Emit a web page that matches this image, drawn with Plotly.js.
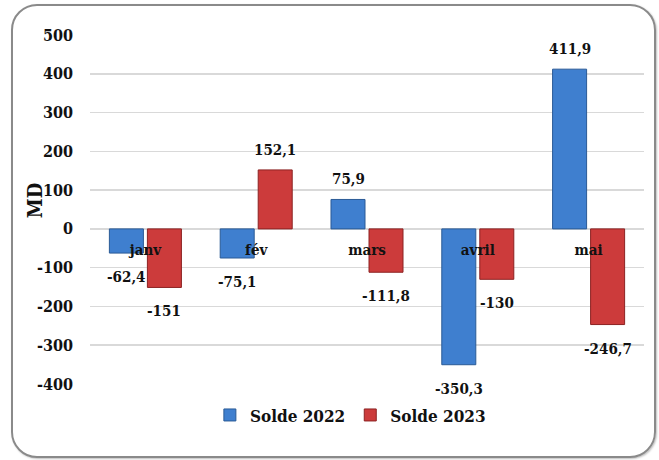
<!DOCTYPE html>
<html>
<head>
<meta charset="utf-8">
<script src="https://cdn.plot.ly/plotly-3.0.1.min.js"></script>
<style>
  html, body { margin: 0; padding: 0; background: #fff; }
  #wrap { position: relative; width: 659px; height: 460px; }
  #chart { width: 659px; height: 460px; }
  #frame {
    position: absolute; left: 11px; top: 4px; width: 641px; height: 450px;
    border: 2px solid #8a8a8a; border-radius: 26px; pointer-events: none;
    box-shadow: 1px 1px 2px rgba(0,0,0,0.25);
  }
</style>
</head>
<body>
<div id="wrap">
  <div id="chart"></div>
  <div id="frame"></div>
</div>
<script>
// ---- data ----
const months = ["janv", "fév", "mars", "avril", "mai"];
const solde2022 = [-62.4, -75.1, 75.9, -350.3, 411.9];
const solde2023 = [-151, 152.1, -111.8, -130, -246.7];
const seriesNames = ["Solde 2022", "Solde 2023"];
const yTicks = [-400, -300, -200, -100, 0, 100, 200, 300, 400, 500];
const yTitle = "MD";

const FONT = "'DejaVu Serif Condensed', 'DejaVu Serif', serif";
const blue = "#3f7fcf", blueEdge = "#2a5a96";
const red = "#cc3b3b", redEdge = "#8c2222";

const yMin = -400, yMax = 500;
const bargap = 0.314, bargroupgap = 0.105;

function fmt(v) { return String(v).replace(".", ","); }

const traces = [
  { type: "bar", name: seriesNames[0], x: months, y: solde2022,
    marker: { color: blue, line: { color: blueEdge, width: 1 } }, hoverinfo: "skip" },
  { type: "bar", name: seriesNames[1], x: months, y: solde2023,
    marker: { color: red, line: { color: redEdge, width: 1 } }, hoverinfo: "skip" }
];

// data labels, positioned via axis coordinates
const slot = (1 - bargap) / 2;
const annotations = [];
[solde2022, solde2023].forEach((vals, s) => {
  const off = (s === 0 ? -1 : 1) * slot / 2;
  vals.forEach((v, i) => {
    annotations.push({
      x: i + off, y: v, xref: "x", yref: "y",
      text: fmt(v), showarrow: false,
      yanchor: v >= 0 ? "bottom" : "top",
      yshift: v >= 0 ? 9 : -13,
      font: { family: FONT, size: 15, color: "#111", weight: "bold" }
    });
  });
});
// y-axis title placed close to tick labels, as in the original
annotations.push({
  text: yTitle, xref: "paper", yref: "paper", x: -0.099, y: 0.527,
  textangle: -90, showarrow: false, xanchor: "center", yanchor: "middle",
  font: { family: FONT, size: 20, color: "#111", weight: "bold" }
});

const layout = {
  width: 659, height: 460,
  margin: { l: 90, r: 15, t: 35, b: 76 },
  paper_bgcolor: "rgba(0,0,0,0)",
  plot_bgcolor: "rgba(0,0,0,0)",
  barmode: "group", bargap: bargap, bargroupgap: bargroupgap,
  showlegend: true,
  legend: {
    orientation: "h", x: 0.47, xanchor: "center", y: -0.09, yanchor: "middle",
    font: { family: FONT, size: 17, color: "#111", weight: "bold" },
    traceorder: "normal"
  },
  xaxis: {
    type: "category",
    anchor: "free", position: (0 - yMin) / (yMax - yMin),
    showline: false, showgrid: false, zeroline: false,
    ticks: "outside", ticklen: 7, tickcolor: "rgba(0,0,0,0)",
    tickfont: { family: FONT, size: 15, color: "#111", weight: "bold" },
    fixedrange: true
  },
  yaxis: {
    range: [yMin, yMax],
    tickvals: yTicks, ticktext: yTicks.map(String),
    showgrid: true, gridcolor: "#d9d9d9", gridwidth: 1.6,
    zeroline: true, zerolinecolor: "#d9d9d9", zerolinewidth: 1.6,
    showline: false, ticks: "", ticklabelstandoff: 16,
    tickfont: { family: FONT, size: 16, color: "#111", weight: "bold" },
    fixedrange: true
  },
  annotations: annotations
};

Plotly.newPlot("chart", traces, layout, { displayModeBar: false, staticPlot: true });
</script>
</body>
</html>
